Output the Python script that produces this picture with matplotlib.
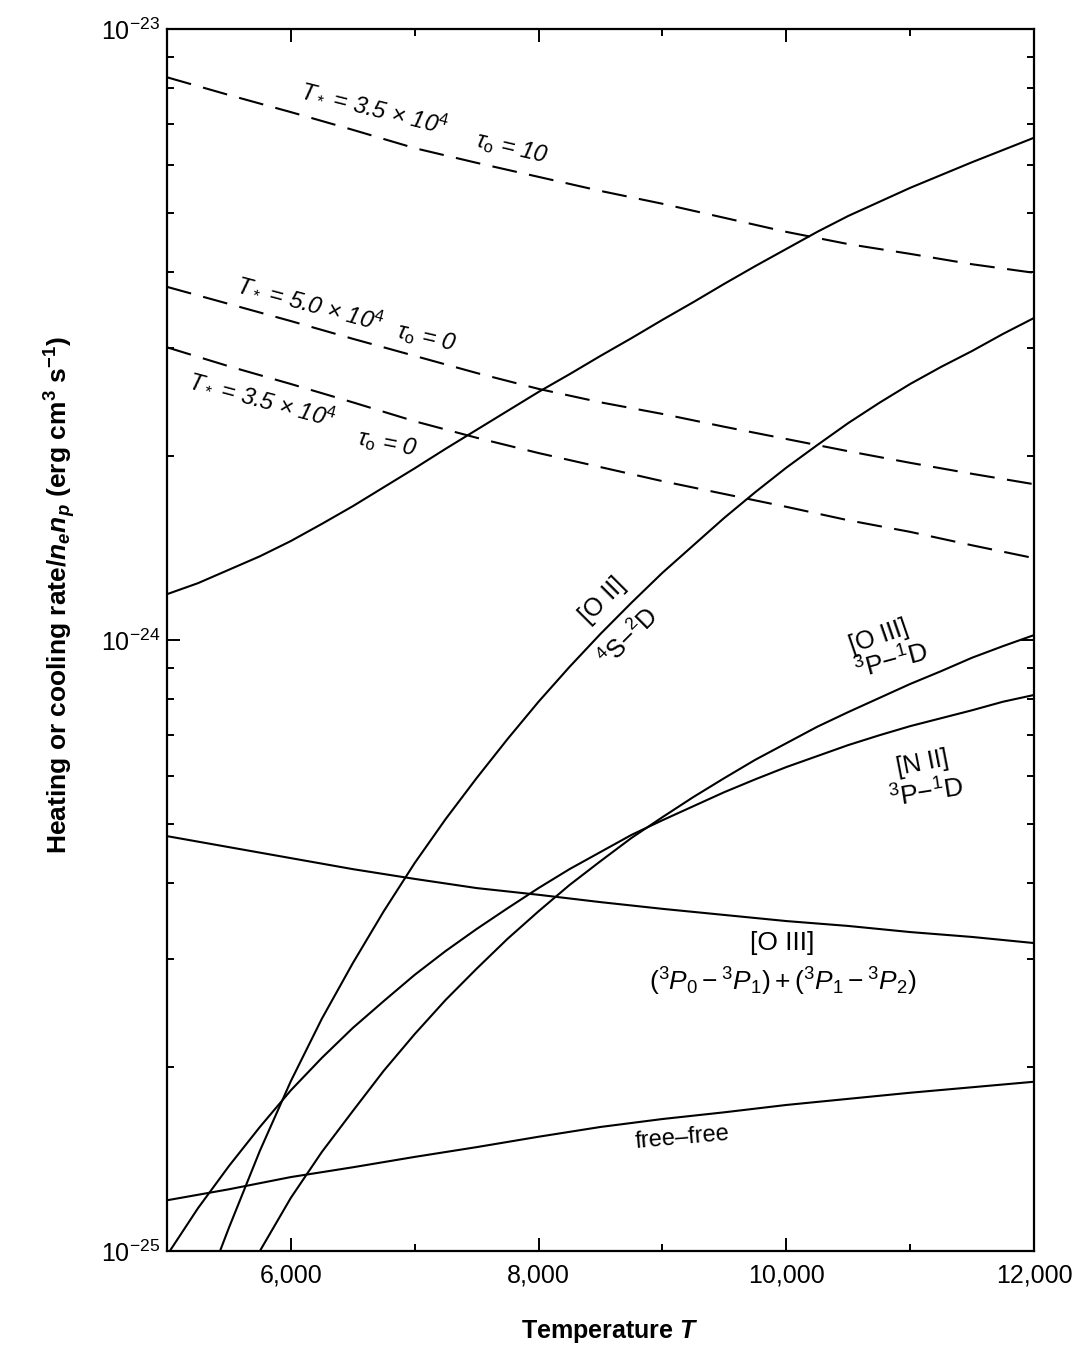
import matplotlib
matplotlib.use("Agg")
import matplotlib.pyplot as plt
from matplotlib.ticker import LogLocator, NullFormatter

plt.rcParams['font.family'] = ['Liberation Sans', 'DejaVu Sans']
plt.rcParams['mathtext.fontset'] = 'custom'
plt.rcParams['mathtext.rm'] = 'Liberation Sans'
plt.rcParams['mathtext.it'] = 'Liberation Sans:italic'
plt.rcParams['mathtext.bf'] = 'Liberation Sans:bold'
plt.rcParams['mathtext.bfit'] = 'Liberation Sans:italic:bold'

# All rates as log10(rate / erg cm^3 s^-1)

# coarse grid (K) for the nearly straight curves
temps = [5000, 5500, 6000, 6500, 7000, 7500, 8000, 8500,
         9000, 9500, 10000, 10500, 11000, 11500, 12000]

# heating rates (dashed)
heat_35_tau10 = [-23.079, -23.108, -23.136, -23.165, -23.195, -23.219, -23.242, -23.265,
                 -23.286, -23.309, -23.332, -23.352, -23.368, -23.385, -23.399]
heat_50_tau0 = [-23.422, -23.450, -23.478, -23.507, -23.535, -23.563, -23.589, -23.611,
                -23.630, -23.651, -23.671, -23.691, -23.710, -23.728, -23.745]
heat_35_tau0 = [-23.521, -23.552, -23.581, -23.611, -23.642, -23.669, -23.694, -23.717,
                -23.740, -23.761, -23.782, -23.804, -23.823, -23.845, -23.866]

# [O III] fine-structure and free-free cooling
cool_oiii_fs = [-24.321, -24.339, -24.357, -24.375, -24.391, -24.406, -24.417, -24.429,
                -24.440, -24.450, -24.460, -24.468, -24.478, -24.486, -24.496]
cool_ff = [-24.917, -24.899, -24.879, -24.863, -24.846, -24.830, -24.813, -24.797,
           -24.784, -24.773, -24.761, -24.751, -24.741, -24.732, -24.723]

# fine grid (K) for the curved ones
temps_fine = [5000, 5250, 5500, 5750, 6000, 6250, 6500, 6750, 7000, 7250,
              7500, 7750, 8000, 8250, 8500, 8750, 9000, 9250, 9500, 9750,
              10000, 10250, 10500, 10750, 11000, 11250, 11500, 11750, 12000]

cool_total = [-23.925, -23.907, -23.885, -23.863, -23.838, -23.810, -23.781, -23.750,
              -23.719, -23.687, -23.656, -23.625, -23.594, -23.565, -23.535, -23.506,
              -23.476, -23.447, -23.417, -23.388, -23.360, -23.332, -23.306, -23.283,
              -23.260, -23.239, -23.218, -23.198, -23.178]
cool_nii = [-25.007, -24.930, -24.861, -24.797, -24.737, -24.684, -24.635, -24.591,
            -24.548, -24.509, -24.473, -24.439, -24.406, -24.375, -24.347, -24.319,
            -24.295, -24.272, -24.249, -24.228, -24.208, -24.190, -24.172, -24.156,
            -24.141, -24.128, -24.115, -24.101, -24.090]

temps_oii = [5400] + temps_fine[2:]
cool_oii = [-25.015, -24.962, -24.836, -24.722, -24.620, -24.529, -24.444, -24.365,
            -24.293, -24.226, -24.162, -24.101, -24.044, -23.990, -23.939, -23.890,
            -23.845, -23.800, -23.758, -23.718, -23.681, -23.645, -23.612, -23.581,
            -23.553, -23.527, -23.499, -23.473]

temps_oiii = temps_fine[3:]
cool_oiii = [-25.000, -24.913, -24.838, -24.771, -24.705, -24.645, -24.589, -24.538,
             -24.489, -24.444, -24.401, -24.362, -24.324, -24.290, -24.257, -24.226,
             -24.196, -24.169, -24.142, -24.118, -24.095, -24.072, -24.051, -24.029,
             -24.010, -23.992]

# curve labels: text, T, rate (1e-24), rotation, italic, size
labels = [
    (r"T$_*$ = 3.5 × 10$^{\mathit{4}}$", 6677, 7.45, -14, True, 17),
    (r"$\tau_{\mathrm{o}}$ = 10", 7782, 6.39, -13, True, 17),
    (r"T$_*$ = 5.0 × 10$^{\mathit{4}}$", 6153, 3.57, -15, True, 17),
    (r"$\tau_{\mathrm{o}}$ = 0", 7097, 3.12, -13, True, 17),
    (r"T$_*$ = 3.5 × 10$^{\mathit{4}}$", 5766, 2.49, -15, True, 17),
    (r"$\tau_{\mathrm{o}}$ = 0", 6774, 2.10, -11, True, 17),
    ("[O II]", 8516, 1.163, 45, False, 18),
    ("$^4$S\u2212$^2$D", 8734, 1.008, 45, False, 18),
    ("[O III]", 10750, 1.011, 19, False, 18),
    ("$^3$P\u2212$^1$D", 10847, 0.920, 15, False, 19),
    ("[N II]", 11097, 0.629, 11, False, 18),
    ("$^3$P\u2212$^1$D", 11129, 0.562, 9, False, 19),
    ("[O III]", 9968, 0.319, 0, False, 19),
    (r"$({}^3P_0-{}^3P_1)+({}^3P_1-{}^3P_2)$", 9968, 0.2756, 0, False, 19),
    ("free\u2013free", 9161, 0.1531, 5, False, 17),
]

fig = plt.figure(figsize=(10.9, 13.62), dpi=100)
ax = fig.add_axes([0.1532, 0.0815, 0.7954, 0.8972])

dash = (12, 6)
for series in (heat_35_tau10, heat_50_tau0, heat_35_tau0):
    ax.plot(temps, [10 ** v for v in series], color='black', lw=1.5,
            dashes=dash)

for t, series in ((temps, cool_oiii_fs), (temps, cool_ff),
                  (temps_fine, cool_total), (temps_fine, cool_nii),
                  (temps_oii, cool_oii), (temps_oiii, cool_oiii)):
    ax.plot(t, [10 ** v for v in series], color='black', lw=1.5)

for text, t, v, rot, ital, size in labels:
    ax.text(t, v * 1e-24, text, rotation=rot, ha='center', va='center',
            fontsize=size, style='italic' if ital else 'normal',
            rotation_mode='anchor')

ax.set_yscale('log')
ax.set_xlim(5000, 12000)
ax.set_ylim(1e-25, 1e-23)

ax.set_xticks([6000, 8000, 10000, 12000])
ax.set_xticklabels(['6,000', '8,000', '10,000', '12,000'])
ax.set_xticks([7000, 9000, 11000], minor=True)
ax.set_yticks([1e-25, 1e-24, 1e-23])
ax.set_yticklabels(['$10^{-25}$', '$10^{-24}$', '$10^{-23}$'])
ax.yaxis.set_minor_locator(LogLocator(base=10, subs=range(2, 10)))
ax.yaxis.set_minor_formatter(NullFormatter())

ax.tick_params(which='both', direction='in', top=True, right=True,
               width=1.4, labelsize=18)
ax.tick_params(which='major', length=9.5)
ax.tick_params(which='minor', length=5)
ax.tick_params(axis='x', pad=9)
ax.tick_params(axis='y', pad=5)
for s in ax.spines.values():
    s.set_linewidth(1.6)

ax.set_xlabel(r"Temperature $\mathbfit{T}$", fontsize=18, fontweight='bold')
ax.set_ylabel(r"Heating or cooling rate/$\mathbfit{n_e n_p}$ (erg cm$^{\mathbf{3}}$ s$^{\mathbf{-1}}$)",
              fontsize=19, fontweight='bold')
ax.xaxis.set_label_coords(0.511, -0.055)
ax.yaxis.set_label_coords(-0.103, 0.537)

fig.savefig('out.png', dpi=100)
